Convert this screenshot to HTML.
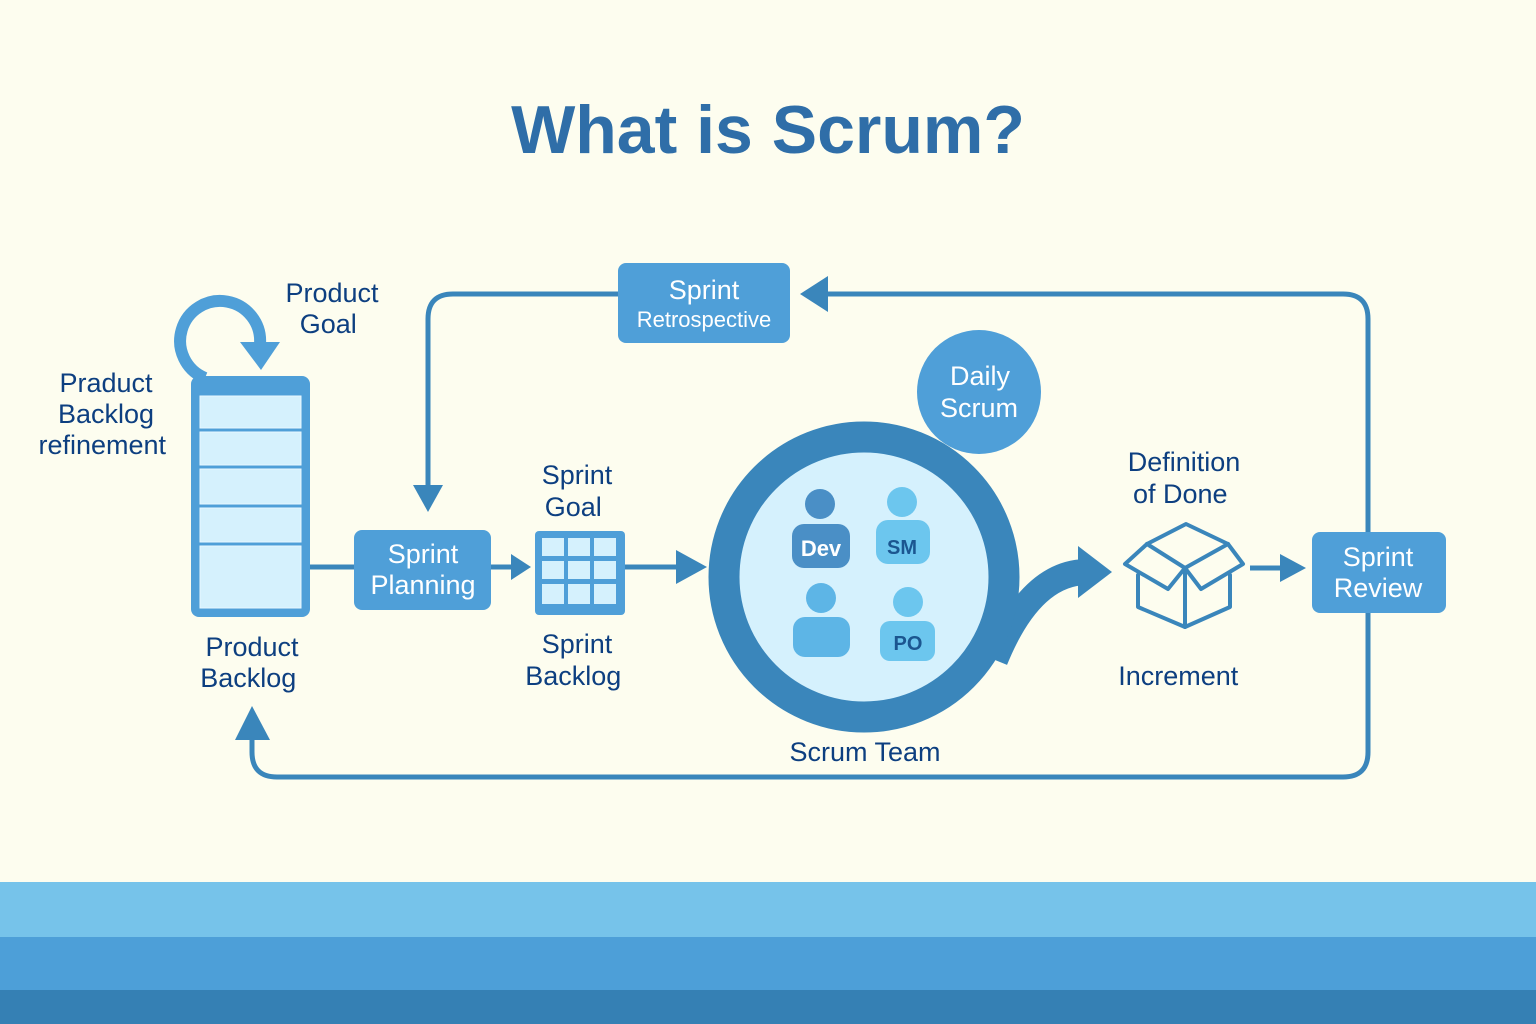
<!DOCTYPE html>
<html><head><meta charset="utf-8"><style>
html,body{margin:0;padding:0;background:#fdfdef;}
svg{display:block;font-family:"Liberation Sans",sans-serif;}
</style></head><body>
<svg width="1536" height="1024" viewBox="0 0 1536 1024" xmlns="http://www.w3.org/2000/svg">
<rect width="1536" height="1024" fill="#fdfdef"/>
<rect y="882" width="1536" height="56" fill="#76c3ea"/>
<rect y="937" width="1536" height="54" fill="#4d9fd8"/>
<rect y="990" width="1536" height="34" fill="#3580b4"/>

<text x="768" y="153" text-anchor="middle" font-size="68" font-weight="bold" fill="#2f6ea8">What is Scrum?</text>

<g fill="none" stroke="#3a86bb" stroke-width="5">
<path d="M1368 532 V319 Q1368 294 1343 294 H826"/>
<path d="M618 294 H453 Q428 294 428 319 V488"/>
<path d="M1368 613 V752 Q1368 777 1343 777 H277 Q252 777 252 752 V738"/>
<path d="M310 567 H356"/>
<path d="M491 567 H512"/>
<path d="M625 567 H682"/>
<path d="M1250 568 H1282"/>
</g>
<g fill="#3a86bb">
<polygon points="800,294 828,276 828,312"/>
<polygon points="428,512 413,485 443,485"/>
<polygon points="252,706 235,740 270,740"/>
<polygon points="531,567 511,554 511,580"/>
<polygon points="707,567 676,550 676,584"/>
<polygon points="1306,568 1280,554 1280,582"/>
</g>

<!-- product backlog -->
<path d="M205 378 A40 40 0 1 1 260 344" fill="none" stroke="#4f9fd8" stroke-width="12"/>
<polygon points="240,342 280,342 261,370" fill="#4f9fd8"/>
<rect x="191" y="376" width="119" height="241" rx="8" fill="#4f9fd8"/>
<g fill="#d5f1fd" stroke="#e8f8ff" stroke-width="1">
<rect x="200" y="396" width="101" height="32"/>
<rect x="200" y="432" width="101" height="33"/>
<rect x="200" y="469" width="101" height="35"/>
<rect x="200" y="508" width="101" height="34"/>
<rect x="200" y="546" width="101" height="62"/>
</g>

<text font-size="27" fill="#0d3f80" text-anchor="middle">
<tspan x="332" y="302">Product</tspan><tspan x="332" y="333">Goal</tspan>
<tspan x="106" y="392">Praduct</tspan><tspan x="106" y="423">Backlog</tspan><tspan x="106" y="454">refinement</tspan>
<tspan x="252" y="656">Product</tspan><tspan x="252" y="687">Backlog</tspan>
<tspan x="577" y="484">Sprint</tspan><tspan x="577" y="516">Goal</tspan>
<tspan x="577" y="653">Sprint</tspan><tspan x="577" y="685">Backlog</tspan>
<tspan x="1184" y="471">Definition</tspan><tspan x="1184" y="503">of Done</tspan>
<tspan x="1182" y="685">Increment</tspan>
<tspan x="865" y="761">Scrum Team</tspan>
</text>

<!-- sprint planning -->
<rect x="354" y="530" width="137" height="80" rx="8" fill="#4f9fd8"/>
<text font-size="27" fill="#fff" text-anchor="middle"><tspan x="423" y="563">Sprint</tspan><tspan x="423" y="594">Planning</tspan></text>

<!-- sprint backlog grid -->
<rect x="535" y="531" width="90" height="84" rx="4" fill="#4f9fd8"/>
<g fill="#d5f1fd">
<rect x="542" y="538" width="22" height="18"/><rect x="568" y="538" width="22" height="18"/><rect x="594" y="538" width="22" height="18"/>
<rect x="542" y="561" width="22" height="18"/><rect x="568" y="561" width="22" height="18"/><rect x="594" y="561" width="22" height="18"/>
<rect x="542" y="584" width="22" height="20"/><rect x="568" y="584" width="22" height="20"/><rect x="594" y="584" width="22" height="20"/>
</g>

<!-- retrospective -->
<rect x="618" y="263" width="172" height="80" rx="8" fill="#4f9fd8"/>
<text fill="#fff" text-anchor="middle"><tspan x="704" y="299" font-size="27">Sprint</tspan><tspan x="704" y="327" font-size="22">Retrospective</tspan></text>

<!-- daily scrum -->
<circle cx="979" cy="392" r="62" fill="#4f9fd8"/>
<text font-size="27" fill="#fff" text-anchor="middle"><tspan x="980" y="385">Daily</tspan><tspan x="979" y="417">Scrum</tspan></text>

<!-- scrum team -->
<path d="M995 660 Q1030 574 1085 572" fill="none" stroke="#3a86bb" stroke-width="26"/>
<polygon points="1112,572 1078,546 1078,598" fill="#3a86bb"/>
<circle cx="864" cy="577" r="140" fill="#d5f1fd" stroke="#3a86bb" stroke-width="31"/>
<circle cx="820" cy="504" r="15" fill="#4a8fc6"/>
<rect x="792" y="524" width="58" height="44" rx="12" fill="#4a8fc6"/>
<text x="821" y="556" font-size="22" font-weight="bold" fill="#fff" text-anchor="middle">Dev</text>
<circle cx="902" cy="502" r="15" fill="#6cc6ee"/>
<rect x="876" y="520" width="54" height="44" rx="12" fill="#6cc6ee"/>
<text x="902" y="554" font-size="20" font-weight="bold" fill="#1b5690" text-anchor="middle">SM</text>
<circle cx="821" cy="598" r="15" fill="#5db5e6"/>
<rect x="793" y="617" width="57" height="40" rx="12" fill="#5db5e6"/>
<circle cx="908" cy="602" r="15" fill="#6cc6ee"/>
<rect x="880" y="621" width="55" height="40" rx="10" fill="#6cc6ee"/>
<text x="908" y="650" font-size="20" font-weight="bold" fill="#1b5690" text-anchor="middle">PO</text>

<!-- increment box -->
<g fill="none" stroke="#3a86bb" stroke-width="4" stroke-linejoin="round" stroke-linecap="round">
<path d="M1147 544 L1186 524 L1228 544"/>
<path d="M1147 544 L1185 568 L1228 544"/>
<path d="M1147 544 L1125 564 L1168 589 L1185 568"/>
<path d="M1228 544 L1243 564 L1201 589 L1185 568"/>
<path d="M1138 575 V607 L1185 627 L1230 607 V575"/>
<path d="M1185 568 V627"/>
</g>

<!-- sprint review -->
<rect x="1312" y="532" width="134" height="81" rx="8" fill="#4f9fd8"/>
<text font-size="27" fill="#fff" text-anchor="middle"><tspan x="1378" y="566">Sprint</tspan><tspan x="1378" y="597">Review</tspan></text>
</svg>
</body></html>
